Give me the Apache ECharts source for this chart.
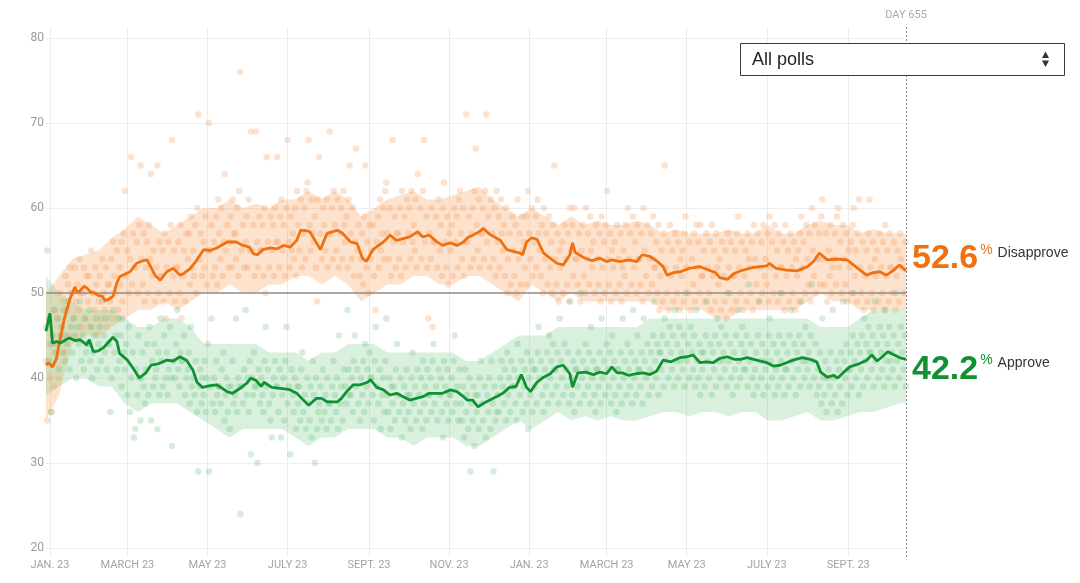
<!DOCTYPE html>
<html><head><meta charset="utf-8">
<script src="https://cdn.jsdelivr.net/npm/echarts@6/dist/echarts.min.js"></script>
<style>html,body{margin:0;padding:0;background:#fff}#c{width:1080px;height:583px}</style>
</head><body><div id="c"></div>
<script>
// ---------- DATA ----------
const currentDay = 655;
const tickDays = [3, 62, 123, 184, 246, 307, 368, 427, 488, 549, 611];
const tickLabels = ['JAN. 23','MARCH 23','MAY 23','JULY 23','SEPT. 23','NOV. 23','JAN. 23','MARCH 23','MAY 23','JULY 23','SEPT. 23'];

const approveDays = [0,3,5,8,11,15,18,22,26,31,33,36,40,44,48,51,54,56,62,67,71,76,80,86,92,97,102,107,112,115,119,125,130,138,142,147,153,156,160,164,166,172,177,183,186,191,196,200,206,210,214,222,225,229,234,239,245,247,252,257,262,267,272,277,282,287,292,297,302,308,313,318,321,325,329,333,338,343,348,353,358,362,366,369,374,379,384,389,394,399,401,405,411,417,422,427,431,435,439,444,449,455,460,465,470,476,483,488,493,498,503,508,513,519,524,529,534,539,544,549,554,559,564,569,576,582,587,590,595,600,603,607,612,618,625,629,633,637,641,645,650,655];
const approveValues = [45.5,47.6,44.1,44.3,44.1,44.5,44.7,44.4,44.5,43.9,44.5,43.1,43.2,43.6,44.3,44.8,44.3,42.9,42.1,41.0,40.0,40.6,41.5,41.7,42.1,42.0,42.5,42.1,40.9,39.5,38.9,39.1,39.2,38.4,38.2,38.7,39.4,40.0,39.7,39.0,39.5,38.9,38.8,38.7,38.6,38.2,37.4,36.8,37.6,37.6,37.2,37.2,37.6,38.4,39.2,39.2,39.5,39.8,38.9,38.6,38.0,38.2,37.8,37.4,37.6,37.8,38.2,38.2,38.2,38.6,38.4,37.8,37.4,37.4,36.6,37.0,37.4,37.8,38.2,38.9,39.0,40.4,38.9,38.4,39.5,40.1,40.5,41.3,41.5,40.5,38.9,40.6,40.7,40.4,40.7,40.5,41.3,40.6,40.6,40.3,40.5,40.6,40.4,40.8,42.1,41.9,42.4,42.5,42.7,41.8,41.9,41.8,42.3,42.5,42.2,42.2,42.4,42.2,42.0,41.8,41.4,41.5,41.8,42.1,42.4,42.2,41.9,40.7,40.1,40.3,40.0,40.6,41.3,41.6,42.1,42.7,42.0,42.5,43.1,42.8,42.4,42.2];

const disapproveDays = [0,2,5,8,10,14,18,22,24,26,29,31,34,37,40,43,45,48,51,54,56,60,64,69,74,77,80,83,87,92,97,102,105,110,115,120,125,130,138,145,150,155,158,161,165,171,176,181,186,191,194,199,201,206,209,214,222,226,232,237,241,244,249,257,262,267,272,277,283,287,292,297,302,308,313,318,321,325,330,333,338,346,351,358,361,363,366,370,374,379,384,389,394,399,401,403,409,416,422,427,431,437,444,450,454,460,465,470,473,478,483,490,498,503,510,513,519,524,531,538,544,549,551,556,564,572,580,585,589,595,602,610,615,620,625,630,635,640,645,650,655];
const disapproveValues = [41.5,41.8,41.3,42.3,44.0,47.0,49.2,50.7,50.0,50.3,50.8,50.6,50.1,50.0,49.7,49.6,49.1,49.3,49.6,51.2,51.9,52.2,52.5,53.5,53.8,53.9,53.0,52.1,51.5,52.5,52.9,52.1,52.3,52.9,53.9,55.1,55.0,55.3,56.0,56.0,55.6,55.4,54.6,54.5,55.1,55.3,55.2,55.6,55.4,56.2,57.4,57.3,57.2,55.9,55.1,57.0,57.4,57.0,56.0,55.8,54.1,53.7,55.1,56.0,56.8,56.2,56.4,56.6,57.2,56.6,56.8,56.1,55.6,55.9,55.6,56.0,56.5,56.8,57.2,57.6,56.9,56.2,55.1,54.8,54.7,54.5,56.0,56.5,56.3,54.7,54.1,53.5,53.3,54.5,55.9,54.8,54.2,53.8,54.1,53.7,53.9,53.7,53.9,53.7,54.5,54.3,53.8,53.1,52.1,52.4,52.5,52.9,53.1,52.8,52.4,51.8,51.6,52.3,52.7,53.0,53.1,53.2,53.5,52.9,52.7,52.6,53.1,53.8,54.7,53.9,54.0,53.9,53.3,52.7,52.1,52.4,52.5,52.1,52.6,53.3,52.6];

const bandDays = [0,10,20,30,40,50,60,70,80,90,100,110,120,130,140,150,160,170,180,190,200,210,220,230,240,250,260,270,280,290,300,310,320,330,340,350,360,370,380,390,400,410,420,430,440,450,460,470,480,490,500,510,520,530,540,550,560,570,580,590,600,610,620,630,640,650,655];
const disapproveUpper = [50,52,54,54.5,55,56.5,57.5,59,58,57,58,59,60,60,61,60,60.5,60,61,61,62,61,62,61,59,60,61,61.5,62,61,61,61.5,62,62.5,61,60,59,60,59,58,59,58,58.5,58,58,58.5,58,57,57.5,57,57,57,57.5,57,57,58,57,57,58,58.5,58,58,57,57.5,57,57,57];
const disapproveLower = [35,38,44,45,45,46,47,48,48,49,48,49,50,50,51,50,50,51,51,52,52,51,52,51,49,50,51,51,52,52,51,51,52,52,51,50,49,51,50,49,50,49,49,49,49,49,49,48,48,48,48,47,47,48,48,48,48,48,49,50,49,49,48,48,48,48,48];
const approveUpper = [52,50,49,48,48,48,47,46,46,47,47,46,44,44,44,44,44,43,43,43,42,43,43,44,44,44,43,43,43,43,43,43,42,42,43,44,45,45,45,46,46,46,46,46,46,46,47,47,47,47,47,47,47,47,47,47,47,47,47,46,46,46,47,48,48,48,48];
const approveLower = [38,39,40,40,39,39,37,36,37,37,37,36,35,34,33,34,34,34,34,33,32,33,33,34,34,34,33,33,32,33,33,33,32,32,33,34,35,34,35,36,35,35.5,35,35.5,35,35,35.5,36,36,35.5,36,36,35.5,36,36,35,35,35.5,36,35,35,35.5,36,36,36.5,37,37];

// polls, grouped in 4-day buckets starting at day 0
const pollBucketDays = 4;
const approvePolls = [
[46,55,42,44],[36,45,48,43],[44,47,41,45],[46,43,48,42,45],[44,49,41,46],[43,47,45,40],[46,44,49,42],[45,41,47,43,44],[44,48,42,46,40],[43,45,47,41],
[44,46,42,49],[45,43,47,41,44],[44,36,40,48],[43,45,41,47],[42,45,39,47,43],[41,44,38,46],[36,40,43,33],[34,41,38,45,40],[35,40,43,39,37],[41,44,38,46],
[35,42,39,44,40],[41,34,43,38,47],[42,39,45,40],[43,38,41,46,40],[32,42,40,44],[48,41,39,43,42],[42,45,38,40],[41,43,37,46,39],[40,38,42,36],[29,39,41,37,40],
[38,42,36,40,44],[29,39,47,37],[40,36,42,38,39],[39,37,41,43],[35,38,40,36,39],[34,39,42,37],[38,47,36,40,39],[24,39,37,41],[48,38,40,36,42],[31,40,38,43,39],
[39,30,41,37],[40,38,36,42,46],[39,41,37,35],[33,38,40,42,39],[39,36,41,33],[38,40,35,42,46],[37,39,31,41],[38,36,40,34,39],[37,39,35,41,43],[36,38,34,40],
[37,35,39,33,42],[38,30,40,34,36],[37,39,35,41],[36,38,34,40,37],[37,35,39,42],[38,36,40,34,45],[37,39,35,41],[39,37,48,41,38],[38,40,36,42,45],[39,41,37,35],
[40,38,42,36,44],[39,41,37,43,40],[40,38,35,42,46],[39,37,41,34],[38,40,36,42,47],[38,36,40,34,39],[37,39,35,41,44],[38,36,40,33],[37,39,35,41,38],[36,38,34,40,43],
[37,39,35,41],[38,36,40,34,42],[37,39,35,41,38],[38,40,36,42,44],[37,39,35,41],[38,40,36,33,42],[39,37,41,35,38],[38,40,36,42,45],[37,39,35,41],[37,35,39,33,41],
[36,38,34,40,29],[37,35,39,32,38],[36,38,34,40,42],[37,35,39,33],[38,36,40,34,42],[37,29,39,35,36],[38,36,40,42],[39,37,41,35,43],[38,40,36,42,39],[39,41,37,35,44],
[40,38,42,36],[39,41,37,43,34],[40,38,42,36,41],[39,41,37,43,46],[40,42,38,36],[41,39,43,37,45],[40,42,38,44,41],[41,39,43,37,47],[42,40,38,44],[41,39,43,37,49],
[40,38,42,36,41],[41,39,43,37,50],[40,42,38,44],[41,39,43,37,46],[40,42,38,36,41],[41,39,43,37,47],[40,42,38,44],[41,39,43,37,45],[40,42,38,36,41],[41,39,43,37,47],
[40,42,38,44],[41,39,43,37,48],[40,42,38,45,41],[41,39,43,37,47],[42,40,44,38],[41,43,39,45,49],[42,40,44,38,43],[43,41,45,39,47],[42,44,40,46],[43,41,45,39,48],
[42,44,40,46,42],[43,41,45,39,50],[42,44,40,46],[43,41,45,39,48],[42,40,44,38,43],[41,43,39,45,49],[42,40,44,38],[43,41,45,39,47],[42,44,40,46,42],[43,41,45,39,50],
[42,44,40,38],[43,41,45,39,48],[42,40,44,46,41],[43,41,45,39,51],[42,44,40,38],[41,43,39,45,49],[42,40,44,38,42],[41,43,39,45,47],[42,40,44,38],[41,43,39,45,50],
[42,40,44,38,41],[41,43,39,45,48],[42,40,44,38],[43,41,45,39,49],[42,44,40,46,42],[41,43,39,45,51],[42,40,44,38],[41,39,43,37,47],[40,38,42,36,40],[41,39,43,37,48],
[40,38,42,36],[41,39,43,37,49],[42,40,44,38,41],[41,43,39,45,50],[42,40,44,38],[43,41,45,39,47],[42,44,40,46,43],[43,41,45,39,49],[42,44,40,46],[43,41,45,39,48],
[42,44,40,46,42],[43,41,45,39,50],[42,44,40,46],[43,41,45,39]
];
const disapprovePolls = [
[42,35,47,40],[36,44,39,48],[43,47,40,50,45],[46,49,43,52],[48,51,45,53,50],[50,47,53,49],[51,48,54,50,46],[50,53,47,52],[49,52,46,55,50],[50,48,53,51,45],
[49,52,47,54],[50,48,53,46,51],[51,49,54,47,56],[52,50,55,48],[53,51,56,49,57],[62,52,55,50],[54,66,51,57,53],[53,56,50,58],[65,54,51,57,49],[53,56,50,58,54],
[64,52,55,49],[53,65,50,56,52],[52,55,49,57,47],[53,56,50,58],[68,52,55,49,53],[53,56,50,58,47],[52,55,49,57],[54,57,51,59,53],[55,52,58,50,60],[71,54,57,52],
[56,53,59,51,55],[70,55,58,52],[56,53,59,51,61],[57,54,60,52,56],[64,55,58,53],[56,59,53,61,57],[57,54,60,52,62],[76,55,58,53],[56,59,53,61,55],[69,55,58,52],
[69,56,53,59,55],[55,58,52,60,50],[66,56,53,59],[55,58,52,60,56],[66,56,53,59,61],[55,58,52,60],[68,56,53,59,55],[57,54,60,52,62],[58,55,61,53],[57,60,54,62,63],
[68,58,55,61,57],[56,59,53,49,61],[66,57,54,60],[58,55,61,53,57],[69,57,60,54,62],[58,55,61,53],[57,60,54,62,58],[56,59,53,61,65],[57,54,60,52,56],[67,55,58,52],
[54,57,51,59,65],[53,56,50,58,54],[55,58,52,48],[56,59,53,61,55],[57,60,54,62,63],[57,54,60,52],[68,56,59,53,57],[57,54,60,52,62],[56,59,53,61],[57,60,54,62,56],
[58,55,61,53,64],[57,60,54,62],[68,56,59,53,47],[57,54,60,46,56],[56,59,53,61],[55,58,52,60,63],[56,53,59,51,57],[55,58,52,60],[56,59,53,61,62],[57,54,60,52,56],
[71,56,59,53],[57,60,54,62,67],[58,55,61,53,57],[57,60,54,62,71],[56,59,53,61],[57,54,60,52,62],[56,59,53,61,57],[55,58,52,60,50],[54,57,51,59],[55,52,58,50,61],
[54,57,51,59,55],[56,53,59,51,62],[57,54,60,52],[56,59,53,61,57],[55,52,58,50,60],[54,57,51,59],[53,56,50,58,65],[54,51,57,49,55],[53,56,50,58],[54,51,57,49,60],
[55,58,52,60,54],[54,51,57,49],[55,58,52,50,60],[54,57,51,59,55],[53,56,50,58],[54,51,57,49,59],[53,56,50,58,62],[54,51,57,49,55],[53,56,50,58],[54,51,57,49,53],
[55,52,58,50,60],[54,57,51,59],[53,56,50,58,54],[54,51,57,49,60],[55,52,58,50],[54,57,51,59,53],[53,56,50,58,48],[52,55,49,57,65],[53,50,56,48,58],[52,55,49,57],
[53,50,56,48,54],[52,55,49,57,59],[53,50,56,48],[54,51,57,49,58],[53,56,50,58,52],[52,55,49,57],[53,50,56,48,58],[52,55,49,57,53],[51,54,48,56],[52,49,55,47,57],
[53,50,56,48,52],[52,55,49,57,59],[53,50,56,48],[52,55,49,57,54],[53,50,56,48,58],[54,51,57,49],[53,56,50,58,52],[54,51,57,49,59],[53,56,50,58],[52,55,49,57,53],
[53,50,56,48,58],[52,55,49,57],[53,50,56,48,54],[52,55,49,57,59],[53,56,50,58],[54,51,57,49,60],[55,52,58,50,54],[54,57,51,59,61],[54,51,57,49],[55,52,58,50,53],
[54,57,51,59,60],[53,56,50,58],[54,51,57,49,55],[53,56,50,58,60],[52,55,49,57,61],[53,50,56,48],[52,55,49,57,61],[53,50,56,48,54],[52,55,49,57],[53,50,56,48,58],
[52,55,49,57,53],[53,50,56,48],[52,55,49,57,54],[53,50,56]
];

// ---------- BUILD ----------
const ORANGE = '#f1700f', GREEN = '#0e9232';
const pair = (xs, ys) => xs.map((x, i) => [x, ys[i]]);
const polls = groups => {
  const out = [];
  groups.forEach((vals, g) => vals.forEach((v, k) => out.push([g * pollBucketDays + k * pollBucketDays / vals.length, v])));
  return out;
};
const bandData = (lo, up) => bandDays.map((d, i) => [d, lo[i], up[i]]);
// band drawn as one polygon through the axis scales (api.coord)
const bandSeries = (lo, up, fill) => ({
  type: 'custom', xAxisIndex: 0, yAxisIndex: 0, silent: true, z: 1,
  data: bandData(lo, up),
  encode: {x: 0, y: [1, 2]},
  renderItem: (params, api) => {
    if (params.dataIndex !== 0) return null;
    const top = bandDays.map((d, i) => api.coord([d, up[i]]));
    const bottom = bandDays.map((d, i) => api.coord([d, lo[i]])).reverse();
    return {type: 'polygon', shape: {points: top.concat(bottom)}, style: {fill}};
  }
});

const chart = echarts.init(document.getElementById('c'), null, {renderer: 'canvas'});
const labelRich = color => ({
  v: {fontSize: 34, fontWeight: 'bold', color, fontFamily: 'Liberation Sans', lineHeight: 34},
  p: {fontSize: 14, color, fontFamily: 'Liberation Sans', verticalAlign: 'top', lineHeight: 16, padding: [1, 0, 0, 2]},
  n: {fontSize: 14, color: '#333', fontFamily: 'Liberation Sans', verticalAlign: 'top', lineHeight: 16, padding: [4, 0, 0, 5]}
});

chart.setOption({
  animation: false,
  grid: [
    {left: 46, top: 38, width: 860, height: 510},
    {left: 46, top: 27, width: 860, height: 530}
  ],
  xAxis: [
    {gridIndex: 0, type: 'value', min: 0, max: currentDay, show: false},
    {gridIndex: 1, type: 'value', min: 0, max: currentDay,
      axisLine: {show: false},
      axisTick: {show: false, customValues: tickDays},
      axisLabel: {customValues: tickDays, color: '#a3a3a3', fontSize: 11, fontFamily: 'Roboto', margin: 3,
        formatter: v => tickLabels[tickDays.indexOf(v)] || ''},
      splitLine: {show: true, lineStyle: {color: '#ececec', width: 1}}
    }
  ],
  yAxis: [
    {gridIndex: 0, type: 'value', min: 20, max: 80, interval: 10,
      axisLine: {show: false}, axisTick: {show: false},
      axisLabel: {color: '#9a9a9a', fontSize: 12, fontFamily: 'Roboto', margin: 2},
      splitLine: {lineStyle: {color: '#eeeeee', width: 1}}},
    {gridIndex: 1, type: 'value', min: 0, max: 1, show: false}
  ],
  graphic: [
    {type: 'rect', shape: {x: 740.5, y: 43.5, width: 324, height: 32}, style: {fill: '#fff', stroke: '#3a3a3a', lineWidth: 1}, z: 100},
    {type: 'text', x: 752, y: 60, style: {text: 'All polls', fontSize: 18, fontFamily: 'Liberation Sans', fill: '#1e1e1e', verticalAlign: 'middle', textVerticalAlign: 'middle'}, z: 101},
    {type: 'polygon', shape: {points: [[1042, 58], [1049, 58], [1045.5, 51.5]]}, style: {fill: '#333'}, z: 101},
    {type: 'polygon', shape: {points: [[1042, 60.5], [1049, 60.5], [1045.5, 67]]}, style: {fill: '#333'}, z: 101}
  ],
  series: [
    bandSeries(disapproveLower, disapproveUpper, 'rgba(250,165,100,0.32)'),
    bandSeries(approveLower, approveUpper, 'rgba(110,200,130,0.27)'),
    {type: 'scatter', xAxisIndex: 0, yAxisIndex: 0, data: polls(disapprovePolls), symbolSize: 6.5, itemStyle: {color: 'rgba(245,160,100,0.38)'}, silent: true, z: 2},
    {type: 'scatter', xAxisIndex: 0, yAxisIndex: 0, data: polls(approvePolls), symbolSize: 6.5, itemStyle: {color: 'rgba(95,185,115,0.32)'}, silent: true, z: 2},
    {type: 'line', xAxisIndex: 0, yAxisIndex: 0, name: 'Disapprove', data: pair(disapproveDays, disapproveValues), symbol: 'none',
      lineStyle: {color: ORANGE, width: 2.8}, z: 5,
      markLine: {silent: true, symbol: 'none', label: {show: false}, lineStyle: {color: '#8e8e8e', width: 1.5, type: 'solid'}, data: [{yAxis: 50}], z: 3},
      endLabel: {show: true, distance: 6, offset: [0, -12], formatter: p => '{v|' + p.value[1].toFixed(1) + '}{p|%}{n|Disapprove}', rich: labelRich(ORANGE)}},
    {type: 'line', xAxisIndex: 0, yAxisIndex: 0, name: 'Approve', data: pair(approveDays, approveValues), symbol: 'none',
      lineStyle: {color: GREEN, width: 2.8}, z: 5,
      endLabel: {show: true, distance: 6, offset: [0, 10], formatter: p => '{v|' + p.value[1].toFixed(1) + '}{p|%}{n|Approve}', rich: labelRich(GREEN)}},
    {type: 'line', xAxisIndex: 1, yAxisIndex: 1, data: [], silent: true,
      markLine: {silent: true, symbol: 'none', lineStyle: {color: '#8a8a8a', width: 1, type: [2, 2]},
        label: {show: true, position: 'end', formatter: 'DAY ' + currentDay, color: '#aaaaaa', fontSize: 11, fontFamily: 'Roboto', distance: 6},
        data: [{xAxis: currentDay}]}}
  ]
});
</script>
</body></html>
